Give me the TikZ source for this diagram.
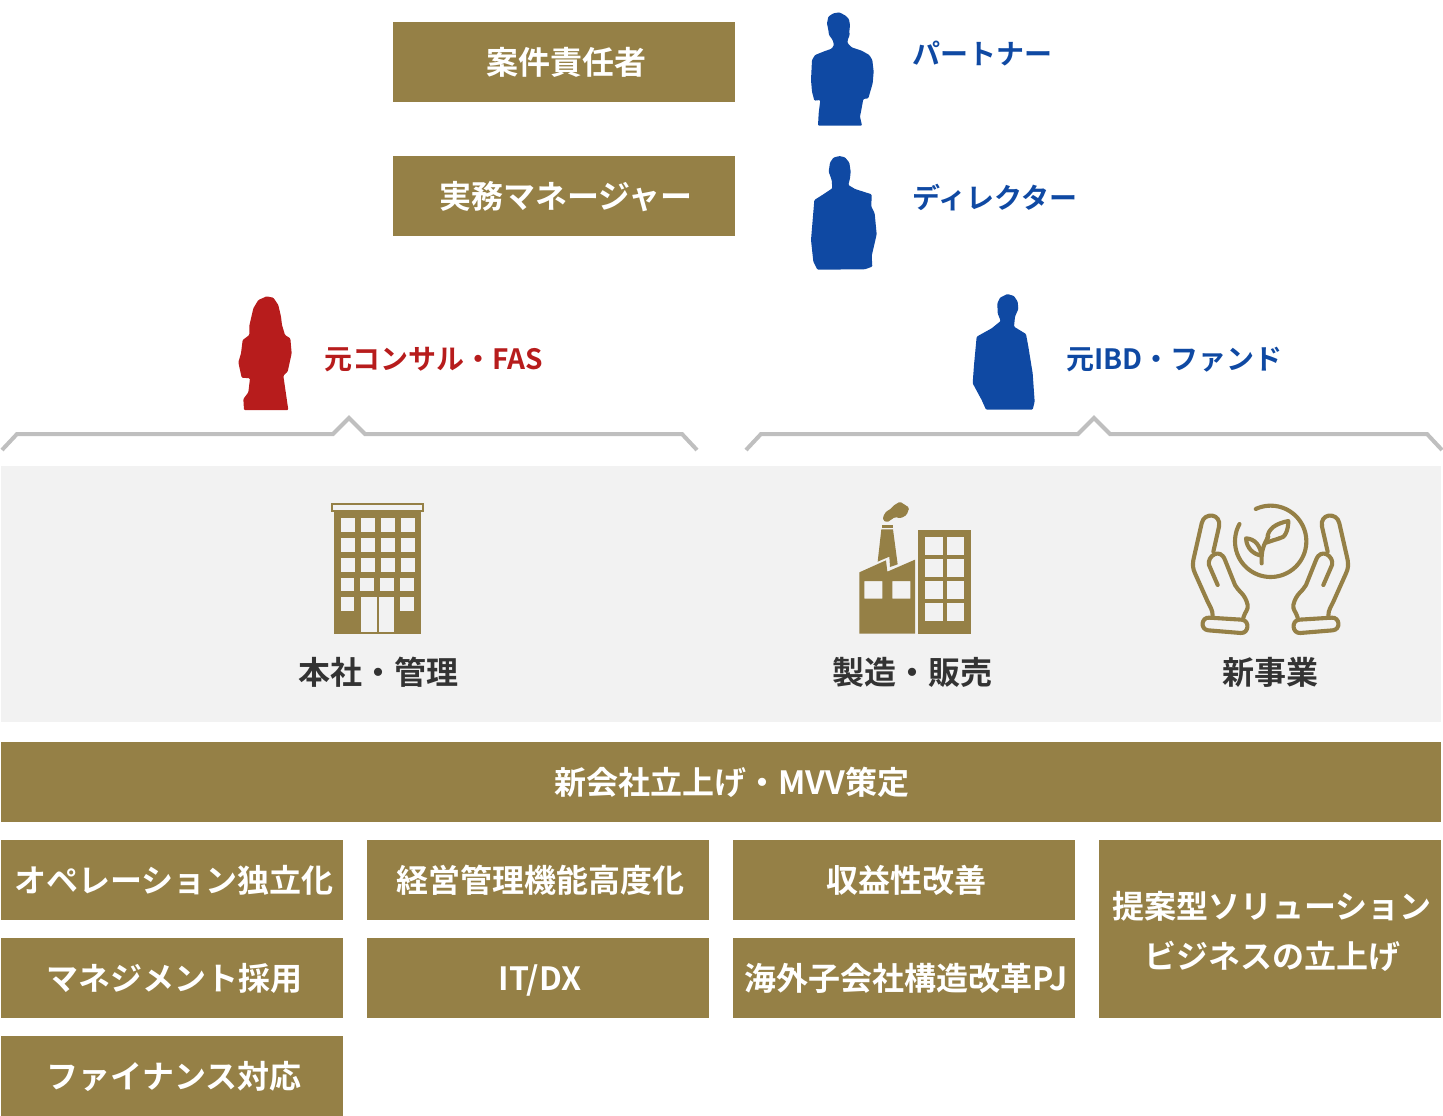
\documentclass[tikz,border=0pt]{standalone}
\usepackage{fontspec}
\setmainfont{Noto Sans CJK JP}[BoldFont={Noto Sans CJK JP Bold}]
\definecolor{gold}{HTML}{958046}
\definecolor{bluep}{HTML}{0F49A3}
\definecolor{redp}{HTML}{B71C1C}
\definecolor{panel}{HTML}{F2F2F2}
\definecolor{brk}{HTML}{BFBFBF}
\definecolor{ink}{HTML}{333333}
\tikzset{
  box/.style={fill=gold,text=white,inner sep=0,outer sep=0,align=center,font=\fontsize{32}{50}\selectfont\bfseries,text height=26.8pt,text depth=1.2pt,execute at begin node={\hspace*{4pt}}},
  boxA/.style={box,minimum width=342pt,minimum height=80pt},
  rolelabel/.style={inner sep=0,anchor=west,font=\fontsize{28}{34}\selectfont\bfseries,text height=24.8pt,text depth=1.2pt},
  sectorlabel/.style={inner sep=0,text=ink,font=\fontsize{32}{40}\selectfont\bfseries,text height=26.8pt,text depth=1.2pt},
  bracket/.style={draw=brk,line width=4pt,fill=none,miter limit=4},
  iconline/.style={draw=gold,line width=4.1pt,line cap=round,line join=round,fill=none},
}
\newcommand{\handicon}{%
  \draw[iconline] (113,270) -- (87,210) .. controls (80,185) and (120,155) .. (135,195) -- (165,270) .. controls (175,290) and (195,295) .. (203,330) .. controls (205,345) and (195,350) .. (190,368);
  \draw[iconline] (98,362) .. controls (98,345) and (90,335) .. (83,320) -- (45,235) .. controls (38,220) and (38,210) .. (40,195) -- (65,85) .. controls (72,50) and (125,55) .. (117,95) -- (100,170);
  \draw[iconline] (88,368) -- (185,374) .. controls (210,376) and (207,416) .. (182,414) -- (85,406) .. controls (60,404) and (63,366) .. (88,368) -- cycle;
}
\begin{document}
\begin{tikzpicture}[x=1pt,y=-1pt]
\useasboundingbox (0,0) rectangle (1443,1116);
% role boxes
\node[boxA] (lead) at (564,62) {案件責任者};
\node[boxA] (mgr) at (564,196) {実務マネージャー};
\begin{scope}[shift={(780,0)},scale=1/3]
% partner silhouette
\fill[bluep,rounded corners=1pt] (141,70) -- (145,50) -- (160,40) -- (178,37) -- (197,47) -- (207,58) -- (210,75) -- (208,95) -- (209,105) -- (203,120) -- (203,130) -- (215,142) -- (245,152) -- (268,165) -- (277,180) -- (281,215) -- (278,250) -- (265,295) -- (250,297) -- (243,335) -- (240,350) -- (246,377) -- (114,377) -- (116,340) -- (121,300) -- (103,302) -- (96,275) -- (93,240) -- (96,180) -- (105,165) -- (130,155) -- (155,146) -- (162,135) -- (158,120) -- (147,105) -- (145,90) -- cycle;
% director silhouette
\fill[bluep,rounded corners=1pt] (178,468) -- (195,472) -- (208,488) -- (212,515) -- (210,535) -- (205,555) -- (225,567) -- (275,583) -- (274,620) -- (284,640) -- (290,703) -- (275,768) -- (277,800) -- (254,808) -- (112,809) -- (100,785) -- (93,720) -- (103,600) -- (130,583) -- (157,565) -- (155,540) -- (146,515) -- (150,488) -- (160,473) -- cycle;
\end{scope}
% woman silhouette
\begin{scope}[shift={(220,285)},scale=1/3]
\fill[redp,rounded corners=1pt] (140,34) -- (160,38) -- (175,60) -- (183,95) -- (186,120) -- (195,150) -- (211,160) -- (215,205) -- (203,260) -- (190,272) -- (197,320) -- (205,375) -- (72,375) -- (70,342) -- (85,322) -- (90,280) -- (65,278) -- (55,232) -- (63,205) -- (68,165) -- (88,150) -- (88,122) -- (100,70) -- (115,45) -- cycle;
\end{scope}
% ibd silhouette
\begin{scope}[shift={(950,285)},scale=1/3]
\fill[bluep,rounded corners=1pt] (172,27) -- (192,33) -- (203,50) -- (205,72) -- (195,95) -- (192,125) -- (228,147) -- (235,185) -- (248,265) -- (254,350) -- (248,374) -- (108,374) -- (95,345) -- (68,295) -- (72,240) -- (80,155) -- (125,130) -- (152,108) -- (143,85) -- (142,55) -- (150,38) -- cycle;
\end{scope}
\node[rolelabel,text=bluep] (lpartner) at (912,53) {パートナー};
\node[rolelabel,text=bluep] (ldirector) at (912,197) {ディレクター};
\node[rolelabel,text=redp] (lconsul) at (324,357.5) {元コンサル・FAS};
\node[rolelabel,text=bluep] (libd) at (1066,357.5) {元IBD・ファンド};
% brackets
\draw[bracket] (2,450) -- (17,434) -- (333,434) -- (349,418) -- (365,434) -- (682,434) -- (697,450);
\draw[bracket] (746,450) -- (761,434) -- (1078,434) -- (1094,418) -- (1110,434) -- (1427,434) -- (1442,450);
% panel
\fill[panel] (1,466) rectangle (1441,722);
% building icon
\begin{scope}[shift={(320,495)},scale=1/3]
\draw[gold,line width=2pt,fill=panel] (36,27) rectangle (310,49);
\fill[gold] (42,50) rectangle (302,416);
\foreach \xa/\xb in {64/104,123/164,183/224,243/284}
  \foreach \ya/\yb in {68/110,128/170,188/230}
    \fill[panel] (\xa,\ya) rectangle (\xb,\yb);
\foreach \xa/\xb in {62/103,121/162,181/222,241/283}
  \fill[panel] (\xa,248) rectangle (\xb,289);
\fill[panel] (62,307) rectangle (103,348);
\fill[panel] (241,307) rectangle (283,348);
\fill[panel] (122,307) rectangle (170,410);
\fill[panel] (177,307) rectangle (222,410);
\end{scope}
% factory icon
\begin{scope}[shift={(850,495)},scale=1/3]
\fill[gold,even odd rule] (28,232) -- (108,196) -- (112,230) -- (195,194) -- (195,416) -- (28,416) -- cycle
  (43,258) rectangle (97,311) (127,258) rectangle (181,311);
\fill[gold] (94,103) -- (129,103) -- (143,208) -- (120,216) -- (118,185) -- (83,200) -- cycle;
\fill[gold] (95,90) rectangle (130,100);
\fill[gold,rounded corners=1.5pt] (99,65) -- (108,50) -- (122,42) -- (130,32) -- (150,20) -- (178,38) -- (170,60) -- (152,70) -- (135,66) -- (112,82) -- (99,76) -- cycle;
\fill[gold] (204,106) rectangle (364,416);
\foreach \xa/\xb in {224/278,290/343}
  \foreach \ya/\yb in {126/179,192/245,259/311,325/378}
    \fill[panel] (\xa,\ya) rectangle (\xb,\yb);
\end{scope}
% hands icon
\begin{scope}[shift={(1180,495)},scale=1/3]
\draw[iconline] plot[domain=114.6:-209,samples=80] ({272+107*cos(\x)},{139-107*sin(\x)});
\draw[iconline] (245,205) .. controls (243,170) and (250,150) .. (265,125);
\draw[iconline] (262,132) .. controls (262,100) and (290,85) .. (325,78) .. controls (325,105) and (315,130) .. (298,130);
\draw[iconline] (298,130) -- (258,143);
\draw[iconline] (198,130) .. controls (225,132) and (240,150) .. (245,182) .. controls (220,178) and (200,160) .. (198,130) -- cycle;
\handicon
\end{scope}
\begin{scope}[shift={(1361,495)},xscale=-1/3,yscale=1/3]
\handicon
\end{scope}
\node[sectorlabel] (hq) at (378,672) {本社・管理};
\node[sectorlabel] (mfg) at (912,672) {製造・販売};
\node[sectorlabel] (newb) at (1270,672) {新事業};
% task boxes
\node[box,minimum width=1440pt,minimum height=80pt,execute at begin node={\hspace*{18pt}}] (t0) at (721,782) {新会社立上げ・MVV策定};
\node[boxA] (t1) at (172,880) {オペレーション独立化};
\node[boxA] (t2) at (538,880) {経営管理機能高度化};
\node[boxA] (t3) at (904,880) {収益性改善};
\node[boxA] (t4) at (172,978) {マネジメント採用};
\node[boxA] (t5) at (538,978) {IT/DX};
\node[boxA] (t6) at (904,978) {海外子会社構造改革PJ};
\node[boxA] (t7) at (172,1076) {ファイナンス対応};
\fill[gold] (1099,840) rectangle (1441,1018);
\node[inner sep=0,text=white,align=center,font=\fontsize{32}{50}\selectfont\bfseries] (t8) at (1272,931) {提案型ソリューション\\ビジネスの立上げ};
\end{tikzpicture}
\end{document}
